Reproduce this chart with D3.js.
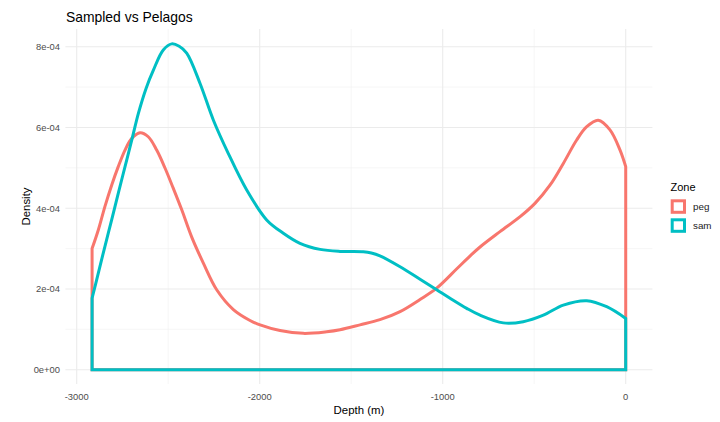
<!DOCTYPE html>
<html><head><meta charset="utf-8">
<script src="https://cdn.jsdelivr.net/npm/d3@7"></script>
<style>
body{margin:0;background:#fff;}
text{font-family:"Liberation Sans",Arial,sans-serif;}
</style></head>
<body><svg id="c" width="720" height="422"></svg>
<script>
const zones = ["peg", "sam"];
const zoneColors = ["#F8766D", "#00BFC4"];
const pegDepth = [-2916,-2882,-2846,-2809,-2773,-2736,-2699,-2654,-2609,-2563,-2517,-2472,-2426,-2372,-2308,-2235,-2144,-2053,-1998,-1889,-1762,-1634,-1561,-1452,-1343,-1233,-1124,-1033,-923,-850,-796,-687,-577,-496,-414,-341,-268,-213,-150,-86,-31,0];
const pegDensity = [3.00e-4,3.46e-4,4.04e-4,4.57e-4,5.03e-4,5.44e-4,5.73e-4,5.87e-4,5.77e-4,5.44e-4,4.99e-4,4.49e-4,3.96e-4,3.29e-4,2.64e-4,1.98e-4,1.49e-4,1.22e-4,1.11e-4,0.97e-4,0.90e-4,0.94e-4,0.99e-4,1.11e-4,1.24e-4,1.44e-4,1.74e-4,2.02e-4,2.50e-4,2.82e-4,3.04e-4,3.42e-4,3.79e-4,4.12e-4,4.57e-4,5.11e-4,5.69e-4,6.02e-4,6.18e-4,5.94e-4,5.44e-4,5.03e-4];
const samDepth = [-2916,-2882,-2846,-2809,-2773,-2736,-2699,-2663,-2620,-2581,-2527,-2481,-2440,-2399,-2326,-2253,-2172,-2071,-1962,-1871,-1780,-1670,-1561,-1434,-1390,-1343,-1233,-1124,-1033,-960,-869,-796,-669,-560,-450,-341,-213,-104,0];
const samDensity = [1.77e-4,2.39e-4,3.05e-4,3.71e-4,4.37e-4,5.03e-4,5.69e-4,6.35e-4,6.98e-4,7.42e-4,7.92e-4,8.07e-4,8.01e-4,7.84e-4,7.09e-4,6.18e-4,5.36e-4,4.45e-4,3.71e-4,3.38e-4,3.13e-4,2.98e-4,2.93e-4,2.92e-4,2.89e-4,2.82e-4,2.55e-4,2.24e-4,1.98e-4,1.77e-4,1.52e-4,1.35e-4,1.16e-4,1.19e-4,1.35e-4,1.60e-4,1.71e-4,1.56e-4,1.27e-4];
const xTicks = [-3000, -2000, -1000, 0];
const xTickLabels = ["-3000", "-2000", "-1000", "0"];
const xMinor = [-2500, -1500, -500];
const yTicks = [0, 2e-4, 4e-4, 6e-4, 8e-4];
const yTickLabels = ["0e+00", "2e-04", "4e-04", "6e-04", "8e-04"];
const yMinor = [1e-4, 3e-4, 5e-4, 7e-4];

const series = [
  {name: zones[0], color: zoneColors[0], x: pegDepth, y: pegDensity},
  {name: zones[1], color: zoneColors[1], x: samDepth, y: samDensity}
];

const svg = d3.select("#c");
const P = {l: 65.4, r: 652.4, t: 29, b: 384};

const allX = pegDepth.concat(samDepth);
const allY = pegDensity.concat(samDensity);
const xmin = d3.min(allX), xmax = d3.max(allX);
const ymax = d3.max(allY);
const xe = (xmax - xmin) * 0.05, ye = ymax * 0.05;
const x = d3.scaleLinear().domain([xmin - xe, xmax + xe]).range([P.l, P.r]);
const y = d3.scaleLinear().domain([-ye, ymax + ye]).range([386.0, 27.6]);

const grid = svg.append("g");
xMinor.forEach(v => grid.append("line").attr("x1", x(v)).attr("x2", x(v)).attr("y1", P.t).attr("y2", P.b)
  .attr("stroke", "#f2f2f2").attr("stroke-width", 0.6));
yMinor.forEach(v => grid.append("line").attr("x1", P.l).attr("x2", P.r).attr("y1", y(v)).attr("y2", y(v))
  .attr("stroke", "#f2f2f2").attr("stroke-width", 0.6));
xTicks.forEach(v => grid.append("line").attr("x1", x(v)).attr("x2", x(v)).attr("y1", P.t).attr("y2", P.b)
  .attr("stroke", "#ebebeb").attr("stroke-width", 1.1));
yTicks.forEach(v => grid.append("line").attr("x1", P.l).attr("x2", P.r).attr("y1", y(v)).attr("y2", y(v))
  .attr("stroke", "#ebebeb").attr("stroke-width", 1.1));

const line = d3.line().x(d => x(d[0])).y(d => y(d[1])).curve(d3.curveCatmullRom.alpha(0.5));
series.forEach(s => {
  const pts = s.x.map((v, i) => [v, s.y[i]]);
  const curve = line(pts).replace(/^M/, "L");
  const x0 = pts[0][0], xn = pts[pts.length - 1][0];
  const d = `M${x(x0)},${y(0)}` + curve + `L${x(xn)},${y(0)}Z`;
  svg.append("path").attr("d", d).attr("fill", "none").attr("stroke", s.color)
    .attr("stroke-width", 3).attr("stroke-linejoin", "miter");
});

// axes labels
const ax = svg.append("g").attr("font-size", "9.4px").attr("fill", "#4d4d4d");
xTicks.forEach((v, i) => ax.append("text").attr("x", x(v)).attr("y", 400).attr("text-anchor", "middle").text(xTickLabels[i]));
yTicks.forEach((v, i) => ax.append("text").attr("x", 60).attr("y", y(v)).attr("dy", "0.35em").attr("text-anchor", "end").text(yTickLabels[i]));

svg.append("text").attr("x", (P.l + P.r) / 2).attr("y", 414).attr("text-anchor", "middle")
  .attr("font-size", "11.4px").attr("fill", "#000").text("Depth (m)");
svg.append("text").attr("transform", `translate(30,${(P.t + P.b) / 2}) rotate(-90)`).attr("text-anchor", "middle")
  .attr("font-size", "11.4px").attr("fill", "#000").text("Density");
svg.append("text").attr("x", 66).attr("y", 21.5).attr("font-size", "13.9px").attr("fill", "#000").text("Sampled vs Pelagos");

// legend
const lg = svg.append("g");
lg.append("text").attr("x", 670.5).attr("y", 190.5).attr("font-size", "11px").attr("fill", "#000").text("Zone");
series.forEach((s, i) => {
  const yy = 200.8 + i * 19;
  lg.append("rect").attr("x", 672.2).attr("y", yy).attr("width", 12.3).attr("height", 11.5)
    .attr("fill", "none").attr("stroke", s.color).attr("stroke-width", 3);
  lg.append("text").attr("x", 693).attr("y", yy + 5.75).attr("dy", "0.35em").attr("font-size", "9.8px")
    .attr("fill", "#1a1a1a").text(s.name);
});
</script></body></html>
